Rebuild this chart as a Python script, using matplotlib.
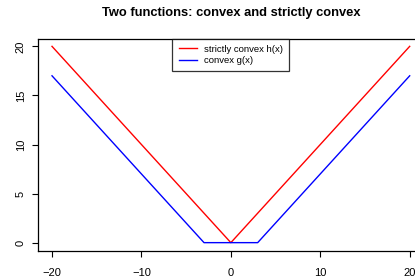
import matplotlib
matplotlib.use("Agg")
import matplotlib.pyplot as plt

plt.rcParams['font.family'] = ['Liberation Sans', 'DejaVu Sans']

x_vals = [-20, -3, 0, 3, 20]
h_vals = [20, 3, 0, 3, 20]
g_vals = [17, 0, 0, 0, 17]
x_ticks = [-20, -10, 0, 10, 20]
y_ticks = [0, 5, 10, 15, 20]
title = "Two functions: convex and strictly convex"

fig = plt.figure(figsize=(4.15, 2.77), dpi=100)
ax = fig.add_axes([37.7/415, 1 - 250.5/277, (424 - 37.7)/415, (250.5 - 38.5)/277])
ax.plot(x_vals, h_vals, color='red', lw=1, label='strictly convex h(x)')
ax.plot(x_vals, g_vals, color='blue', lw=1, label='convex g(x)')
ax.set_xlim(-21.6, 21.6)
ax.set_ylim(-0.8, 20.8)
ax.set_xticks(x_ticks)
ax.set_xticklabels([str(t).replace('-', '\u2212') for t in x_ticks])
ax.set_yticks(y_ticks)
ax.set_yticklabels([str(t) for t in y_ticks], rotation=90, va='center')
ax.tick_params(axis='both', labelsize=8, length=4.5, width=0.8)
ax.tick_params(axis='x', pad=8)
ax.tick_params(axis='y', pad=4)
for s in ax.spines.values():
    s.set_linewidth(0.9)
ax.set_title(title, fontsize=9.3, fontweight='bold', x=0.5, y=1.0, pad=16)
leg = ax.legend(loc='upper center', bbox_to_anchor=(0.5, 1.0), borderaxespad=0,
                fontsize=6.8, frameon=True, fancybox=False, edgecolor='black',
                handlelength=2.0, handletextpad=0.7, labelspacing=0.25,
                borderpad=0.65)
leg.get_frame().set_linewidth(0.9)
fig.savefig('out.png', dpi=100)
